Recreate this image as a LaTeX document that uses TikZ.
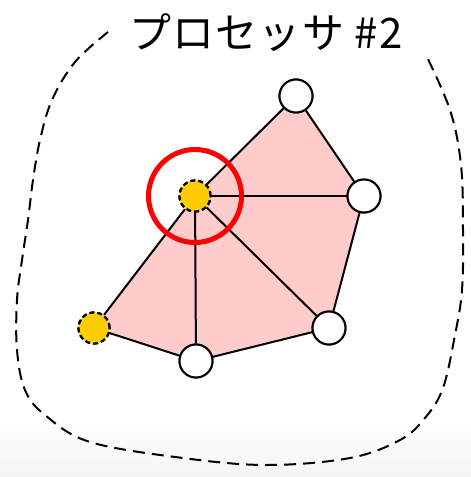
\documentclass[tikz,border=0pt]{standalone}
\usepackage{fontspec}
\usetikzlibrary{
  positioning,
  backgrounds
}
\newfontfamily\jpfont[LetterSpace=3]{Noto Sans CJK JP}
\definecolor{meshpink}{HTML}{FFCCCC}
\definecolor{ghostyellow}{HTML}{FFCC00}
\definecolor{haloRed}{HTML}{FF0000}

\begin{document}
\begin{tikzpicture}[
      x=1pt, y=-1pt,
      vtx/.style={
        circle, draw=black, line width=2pt, fill=white,
        minimum size=33pt, inner sep=0pt
      },
      ghost/.style={
        circle, draw=black, line width=2.2pt, fill=ghostyellow,
        dash pattern=on 5pt off 3pt,
        minimum size=31pt, inner sep=0pt
      },
      halo/.style={
        circle, draw=haloRed, line width=5pt,
        minimum size=93pt, inner sep=0pt
      },
      edge/.style={line width=2pt, black},
      mesh/.style={fill=meshpink},
      region/.style={line width=2pt, black, dash pattern=on 12pt off 7pt},
      title/.style={font=\jpfont\fontsize{42}{42}\selectfont}
    ]
      \useasboundingbox (0,0) rectangle (471,477);

      % Title
      \node[title] (proc) at (266,33) {プロセッサ \#2};

      % Vertices
      \node[vtx] (top) at (296,96) {};
      \node[vtx] (east) at (364,196) {};
      \node[vtx] (seast) at (329,328) {};
      \node[vtx] (south) at (196,361) {};
      \node[ghost] (west) at (94,328) {};
      \node[ghost] (hub) at (195,196) {};

      % Page shading and mesh fill
      \begin{scope}[on background layer]
        \fill[white] (0,0) rectangle (471,420);
        \shade[top color=white, bottom color=black!4] (0,420) rectangle (471,477);
        \fill[mesh] (west.center) -- (hub.center) -- (top.center) -- (east.center)
          -- (seast.center) -- (south.center) -- cycle;
      \end{scope}

      % Edges
      \draw[edge] (west) -- (hub);
      \draw[edge] (hub) -- (top);
      \draw[edge] (top) -- (east);
      \draw[edge] (east) -- (seast);
      \draw[edge] (seast) -- (south);
      \draw[edge] (south) -- (west);
      \draw[edge] (hub) -- (east);
      \draw[edge] (hub) -- (seast);
      \draw[edge] (hub) -- (south);

      % Redraw nodes above the edges
      \node[vtx] at (top) {};
      \node[vtx] at (east) {};
      \node[vtx] at (seast) {};
      \node[vtx] at (south) {};
      \node[ghost] at (west) {};
      \node[ghost] at (hub) {};

      % Focus circle
      \node[halo] (focus) at (hub) {};

      % Processor region
      \draw[region] plot[smooth, tension=0.6] coordinates {
        (108,32) (75,62) (52,100) (40,140) (33,180) (28,220) (22,260)
        (17,300) (17,350) (25,390) (45,415) (90,442) (183,458) (267,465)
        (350,458) (400,440) (425,418) (443,388) (455,335) (462,290)
        (463,230) (461,165) (450,110) (425,53)};
    \end{tikzpicture}
\end{document}
